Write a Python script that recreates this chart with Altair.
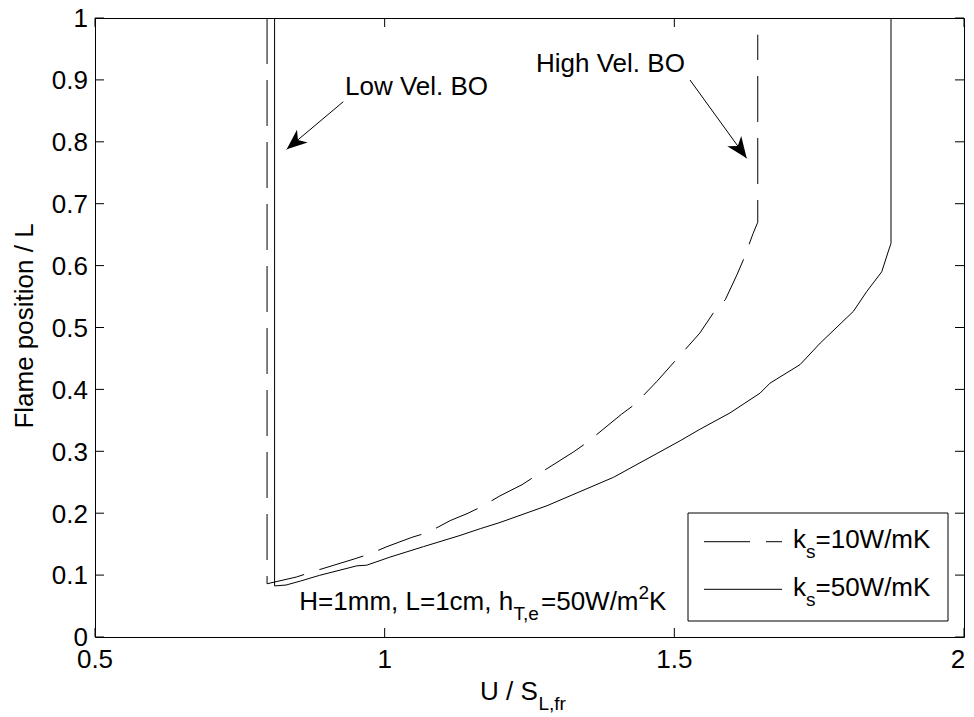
import altair as alt
import pandas as pd

# ---------------- data ----------------
# k_s = 10 W/mK  (dashed)
u_k10 = [0.797, 0.797, 0.848, 0.874, 0.949, 0.975, 1.004, 1.047, 1.075, 1.113,
         1.144, 1.168, 1.199, 1.237, 1.260, 1.326, 1.349, 1.409, 1.432, 1.470,
         1.544, 1.567, 1.588, 1.608, 1.619, 1.636, 1.644, 1.644]
f_k10 = [1.000, 0.086, 0.097, 0.105, 0.1265, 0.1345, 0.146, 0.161, 0.169, 0.188,
         0.200, 0.211, 0.228, 0.246, 0.260, 0.299, 0.314, 0.360, 0.376, 0.413,
         0.491, 0.523, 0.545, 0.585, 0.609, 0.652, 0.670, 0.973]

# k_s = 50 W/mK  (solid)
u_k50 = [0.810, 0.810, 0.830, 0.855, 0.888, 0.952, 0.969, 1.009, 1.067, 1.130,
         1.165, 1.199, 1.280, 1.395, 1.510, 1.544, 1.596, 1.648, 1.665, 1.717,
         1.752, 1.809, 1.832, 1.858, 1.869, 1.874, 1.874]
f_k50 = [1.000, 0.0825, 0.084, 0.0905, 0.0997, 0.115, 0.116, 0.129, 0.146, 0.164,
         0.175, 0.185, 0.212, 0.258, 0.317, 0.3355, 0.362, 0.394, 0.410, 0.440,
         0.475, 0.526, 0.558, 0.590, 0.622, 0.636, 1.000]

x_ticks = [0.5, 1, 1.5, 2]
x_tick_labels = ["0.5", "1", "1.5", "2"]
y_ticks = [0, 0.1, 0.2, 0.3, 0.4, 0.5, 0.6, 0.7, 0.8, 0.9, 1]
y_tick_labels = ["0", "0.1", "0.2", "0.3", "0.4", "0.5", "0.6", "0.7", "0.8", "0.9", "1"]

legend_values = ["=10W/mK", "=50W/mK"]
y_title = "Flame position / L"

# ---------------- layout / style ----------------
W, H = 869, 619
TOP = 18            # page y of the plot's top edge
FONT = "Liberation Sans, Arial, Helvetica, sans-serif"
FS = 26
SFS = 19
TICK = 9


def P(page_y):
    """page y -> plot-area y"""
    return page_y - TOP


xs = alt.Scale(domain=[0.5, 2], nice=False, zero=False)
ys = alt.Scale(domain=[0, 1], nice=False, zero=False)

df10 = pd.DataFrame({"u": u_k10, "f": f_k10, "i": range(len(u_k10))})
df50 = pd.DataFrame({"u": u_k50, "f": f_k50, "i": range(len(u_k50))})

line10 = alt.Chart(df10).mark_line(color="black", strokeWidth=1, strokeDash=[46, 16]).encode(
    x=alt.X("u:Q", scale=xs, axis=None),
    y=alt.Y("f:Q", scale=ys, axis=None),
    order="i:Q",
)
line50 = alt.Chart(df50).mark_line(color="black", strokeWidth=1).encode(
    x=alt.X("u:Q", scale=xs, axis=None),
    y=alt.Y("f:Q", scale=ys, axis=None),
    order="i:Q",
)

# inward ticks on all four sides + tick labels
tx = pd.DataFrame({"v": x_ticks, "lbl": x_tick_labels})
ty = pd.DataFrame({"v": y_ticks, "lbl": y_tick_labels})
tick_rule = dict(color="black", strokeWidth=1)
t_bottom = alt.Chart(tx).mark_rule(**tick_rule).encode(
    x=alt.X("v:Q", scale=xs, axis=None), y=alt.value(H), y2=alt.value(H - TICK))
t_top = alt.Chart(tx).mark_rule(**tick_rule).encode(
    x=alt.X("v:Q", scale=xs, axis=None), y=alt.value(0), y2=alt.value(TICK))
t_left = alt.Chart(ty).mark_rule(**tick_rule).encode(
    y=alt.Y("v:Q", scale=ys, axis=None), x=alt.value(0), x2=alt.value(TICK))
t_right = alt.Chart(ty).mark_rule(**tick_rule).encode(
    y=alt.Y("v:Q", scale=ys, axis=None), x=alt.value(W), x2=alt.value(W - TICK))
lab_x = alt.Chart(tx.iloc[:-1]).mark_text(fontSize=FS, font=FONT, color="black", align="center",
                                          baseline="alphabetic").encode(
    x=alt.X("v:Q", scale=xs, axis=None), y=alt.value(H + 31), text="lbl:N")
# last x label nudged left so that it stays inside the page
lab_x_last = alt.Chart(tx.iloc[-1:]).mark_text(fontSize=FS, font=FONT, color="black",
                                               align="center", baseline="alphabetic",
                                               dx=-6).encode(
    x=alt.X("v:Q", scale=xs, axis=None), y=alt.value(H + 31), text="lbl:N")
lab_y = alt.Chart(ty).mark_text(fontSize=FS, font=FONT, color="black", align="right",
                                baseline="alphabetic", dy=9.3).encode(
    y=alt.Y("v:Q", scale=ys, axis=None), x=alt.value(-7), text="lbl:N")

one = pd.DataFrame({"a": [0]})


def txt(s, x, y, size=FS, align="left", baseline="alphabetic", angle=0):
    return alt.Chart(one).mark_text(text=s, fontSize=size, font=FONT, color="black",
                                    align=align, baseline=baseline, angle=angle).encode(
        x=alt.value(x), y=alt.value(y))


texts = [
    # axis titles
    txt(y_title, -62, P(326), align="center", angle=270),
    txt("U / S", 385, P(700)),
    txt("L,fr", 443.5, P(710), size=SFS),
    # annotations
    txt("Low Vel. BO", 250, P(95)),
    txt("High Vel. BO", 441, P(72)),
    txt("H=1mm, L=1cm, h", 204.3, P(610)),
    txt("T,e", 418.5, P(620), size=SFS),
    txt("=50W/m", 446, P(610)),
    txt("2", 543.5, P(599), size=SFS),
    txt("K", 554, P(610)),
]

# arrows
arrow_path = "M0,0L0.65,1.6L0,1.15L-0.65,1.6Z"
arrows = [
    alt.Chart(one).mark_rule(color="black", strokeWidth=1).encode(
        x=alt.value(248.3), y=alt.value(P(101.7)), x2=alt.value(191.7), y2=alt.value(P(149.3))),
    alt.Chart(one).mark_point(shape=arrow_path, filled=True, color="black", opacity=1,
                              size=650, angle=230, strokeWidth=0).encode(
        x=alt.value(191.7), y=alt.value(P(149.3))),
    alt.Chart(one).mark_rule(color="black", strokeWidth=1).encode(
        x=alt.value(595), y=alt.value(P(80)), x2=alt.value(651.7), y2=alt.value(P(158.3))),
    alt.Chart(one).mark_point(shape=arrow_path, filled=True, color="black", opacity=1,
                              size=700, angle=144, strokeWidth=0).encode(
        x=alt.value(651.7), y=alt.value(P(158.3))),
]

# legend box
LX0, LX1 = 593, 853
legend = [
    alt.Chart(one).mark_rect(fill="white", stroke="black", strokeWidth=1).encode(
        x=alt.value(LX0), x2=alt.value(LX1), y=alt.value(P(513)), y2=alt.value(P(621))),
    alt.Chart(one).mark_rule(color="black", strokeWidth=1, strokeDash=[46, 16]).encode(
        x=alt.value(609), x2=alt.value(687), y=alt.value(P(541.7))),
    alt.Chart(one).mark_rule(color="black", strokeWidth=1).encode(
        x=alt.value(609), x2=alt.value(687), y=alt.value(P(589.3))),
    txt("k", 698, P(548)),
    txt("s", 711, P(558), size=SFS),
    txt(legend_values[0], 720.5, P(548)),
    txt("k", 698, P(596)),
    txt("s", 711, P(606), size=SFS),
    txt(legend_values[1], 720.5, P(596)),
]

chart = alt.layer(line10, line50, t_bottom, t_top, t_left, t_right, lab_x, lab_x_last, lab_y,
                  *arrows, *legend, *texts).properties(
    width=W, height=H,
    autosize=alt.AutoSizeParams(type="none"),
    padding={"left": 87, "top": TOP - 8, "right": 2, "bottom": 76},
    background="white",
).configure_view(stroke="black", strokeWidth=1)

chart.save("out.html", embed_options={"renderer": "svg", "actions": False})
